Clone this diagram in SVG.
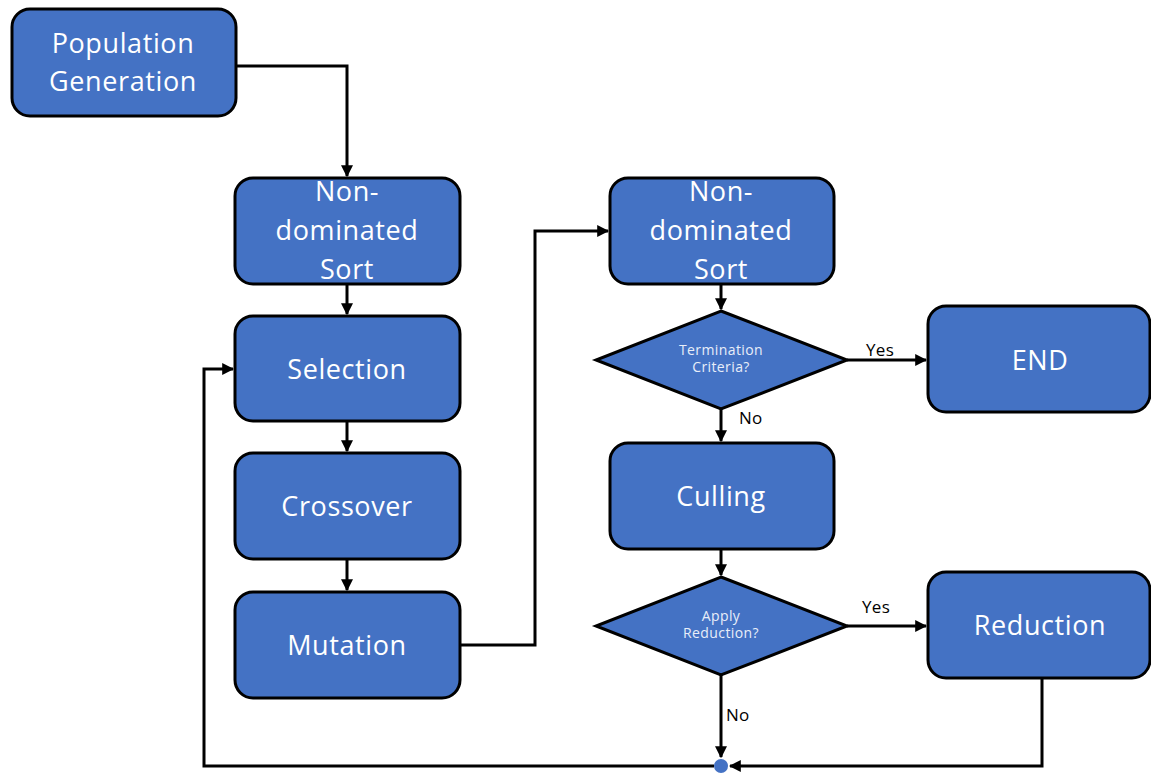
<svg xmlns="http://www.w3.org/2000/svg" width="1151" height="773" viewBox="0 0 1151 773">
  <style>
    .box { fill: #4472C4; stroke: #000; stroke-width: 3; }
    .lbl { font-family: "Open Sans", "Noto Sans", sans-serif; font-size: 27px; letter-spacing: 0.6px; fill: #ffffff; text-anchor: middle; }
    .small { font-family: "Open Sans", "Noto Sans", sans-serif; font-size: 14px; letter-spacing: 0.4px; fill: #e8eef9; text-anchor: middle; }
    .edge { fill: none; stroke: #000; stroke-width: 3; }
    .tag { font-family: "Open Sans", "Noto Sans", sans-serif; font-size: 17px; letter-spacing: 0.3px; fill: #000; }
  </style>
  <defs>
    <marker id="arrow" viewBox="0 0 10 10" refX="9" refY="5" markerWidth="4" markerHeight="4" orient="auto" markerUnits="strokeWidth">
      <path d="M0,0 L10,5 L0,10 Z" fill="#000"/>
    </marker>
  </defs>
  <rect width="1151" height="773" fill="#ffffff"/>

  <g id="connectors">
    <path class="edge" d="M236,66 H347 V176" marker-end="url(#arrow)"/>
    <path class="edge" d="M347,284 V314" marker-end="url(#arrow)"/>
    <path class="edge" d="M347,421 V451" marker-end="url(#arrow)"/>
    <path class="edge" d="M347,559 V590" marker-end="url(#arrow)"/>
    <path class="edge" d="M460,645 H535 V231 H608" marker-end="url(#arrow)"/>
    <path class="edge" d="M721,284 V309" marker-end="url(#arrow)"/>
    <path class="edge" d="M847,360 H926" marker-end="url(#arrow)"/>
    <path class="edge" d="M721,409 V441" marker-end="url(#arrow)"/>
    <path class="edge" d="M721,549 V575" marker-end="url(#arrow)"/>
    <path class="edge" d="M847,626 H926" marker-end="url(#arrow)"/>
    <path class="edge" d="M721,675 V757" marker-end="url(#arrow)"/>
    <path class="edge" d="M1042,678 V766 H730" marker-end="url(#arrow)"/>
    <path class="edge" d="M714,766 H204 V369 H233" marker-end="url(#arrow)"/>
    <circle cx="721" cy="766" r="7" fill="#4472C4"/>
    <text class="tag" x="866" y="356">Yes</text>
    <text class="tag" x="739" y="424">No</text>
    <text class="tag" x="862" y="613">Yes</text>
    <text class="tag" x="726" y="721">No</text>
  </g>

  <g id="population-generation">
    <rect class="box" x="12" y="9" width="224" height="107" rx="18"/>
    <text class="lbl" x="123" y="53">Population</text>
    <text class="lbl" x="123" y="91">Generation</text>
  </g>

  <g id="sort-1">
    <rect class="box" x="235" y="178" width="225" height="106" rx="18"/>
    <text class="lbl" x="347" y="201">Non-</text>
    <text class="lbl" x="347" y="240">dominated</text>
    <text class="lbl" x="347" y="279">Sort</text>
  </g>

  <g id="selection">
    <rect class="box" x="235" y="316" width="225" height="105" rx="18"/>
    <text class="lbl" x="347" y="379">Selection</text>
  </g>

  <g id="crossover">
    <rect class="box" x="235" y="453" width="225" height="106" rx="18"/>
    <text class="lbl" x="347" y="516">Crossover</text>
  </g>

  <g id="mutation">
    <rect class="box" x="235" y="592" width="225" height="106" rx="18"/>
    <text class="lbl" x="347" y="655">Mutation</text>
  </g>

  <g id="sort-2">
    <rect class="box" x="610" y="178" width="224" height="106" rx="18"/>
    <text class="lbl" x="721" y="201">Non-</text>
    <text class="lbl" x="721" y="240">dominated</text>
    <text class="lbl" x="721" y="279">Sort</text>
  </g>

  <g id="termination">
    <polygon class="box" points="721,311 847,360 721,409 596,360"/>
    <text class="small" x="721" y="355">Termination</text>
    <text class="small" x="721" y="372">Criteria?</text>
  </g>

  <g id="end">
    <rect class="box" x="928" y="306" width="222" height="106" rx="18"/>
    <text class="lbl" x="1040" y="370">END</text>
  </g>

  <g id="culling">
    <rect class="box" x="610" y="443" width="224" height="106" rx="18"/>
    <text class="lbl" x="721" y="506">Culling</text>
  </g>

  <g id="apply-reduction">
    <polygon class="box" points="721,577 847,626 721,675 596,626"/>
    <text class="small" x="721" y="621">Apply</text>
    <text class="small" x="721" y="638">Reduction?</text>
  </g>

  <g id="reduction">
    <rect class="box" x="928" y="572" width="222" height="106" rx="18"/>
    <text class="lbl" x="1040" y="635">Reduction</text>
  </g>
</svg>
